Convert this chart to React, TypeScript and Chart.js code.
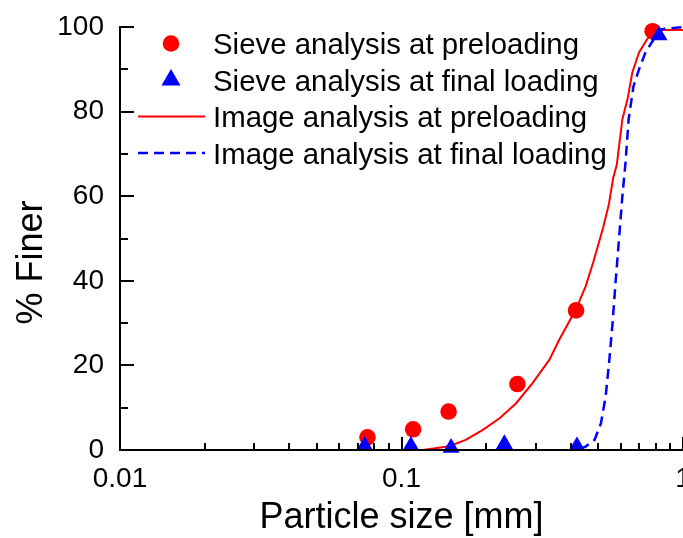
import React, { useEffect, useRef } from "react";
import { Chart, registerables } from "chart.js";

Chart.register(...registerables);

// ---- data ----
const SIEVE_PRE_X = [0.0757, 0.11, 0.147, 0.258, 0.417, 0.78];
const SIEVE_PRE_Y = [3.0, 4.9, 9.1, 15.6, 33.0, 99.0];

const SIEVE_FIN_X = [0.074, 0.108, 0.15, 0.232, 0.42, 0.822];
const SIEVE_FIN_Y = [1.0, 1.0, 0.5, 1.4, 0.9, 98.0];

const IMG_PRE_X = [0.119, 0.148, 0.169, 0.194, 0.223, 0.255, 0.292, 0.335, 0.363, 0.416, 0.451, 0.479, 0.5, 0.52, 0.545, 0.565, 0.582, 0.593, 0.609, 0.635, 0.661, 0.698, 0.747, 0.789, 0.85, 1.0];
const IMG_PRE_Y = [0, 0.9, 2.4, 4.7, 7.5, 11.0, 15.8, 21.3, 26.0, 33.2, 38.7, 44.2, 48.5, 52.5, 58.0, 64.3, 67.5, 71.9, 78.2, 82.9, 89.3, 94.0, 97.2, 98.7, 99.3, 99.3];

const IMG_FIN_X = [0.43, 0.451, 0.485, 0.511, 0.531, 0.546, 0.562, 0.577, 0.593, 0.609, 0.625, 0.641, 0.667, 0.698, 0.736, 0.789, 0.84, 1.0];
const IMG_FIN_Y = [0.3, 0.8, 2.4, 6.3, 12.6, 20.5, 30.0, 40.3, 50.2, 60.0, 68.0, 78.2, 86.0, 90.0, 94.0, 97.2, 99.5, 100.0];

const X_TICKS = [
  0.01, 0.02, 0.03, 0.04, 0.05, 0.06, 0.07, 0.08, 0.09,
  0.1, 0.2, 0.3, 0.4, 0.5, 0.6, 0.7, 0.8, 0.9, 1,
];
const X_TICK_LABELS = [0.01, 0.1, 1];
const Y_TICKS = [0, 10, 20, 30, 40, 50, 60, 70, 80, 90, 100];
const Y_TICK_LABELS = [0, 20, 40, 60, 80, 100];

const LEGEND_LABELS = [
  "Sieve analysis at preloading",
  "Sieve analysis at final loading",
  "Image analysis at preloading",
  "Image analysis at final loading",
];
const X_TITLE = "Particle size [mm]";
const Y_TITLE = "% Finer";

const RED = "#ff0000";
const BLUE = "#0000ff";
const FONT = "'Liberation Sans', Arial, Helvetica, sans-serif";

const zip = (xs: number[], ys: number[]) => xs.map((x, i) => ({ x, y: ys[i] }));

const decorPlugin = {
  id: "decor",
  afterDraw(chart: any) {
    const ctx = chart.ctx as CanvasRenderingContext2D;
    const { left, right, top, bottom } = chart.chartArea;
    const xs = chart.scales.x;
    const ys = chart.scales.y;
    ctx.save();
    ctx.strokeStyle = "#000";
    ctx.lineWidth = 2;
    ctx.lineCap = "butt";
    // inward x ticks
    X_TICKS.forEach((v) => {
      const px = Math.round(xs.getPixelForValue(v));
      const len = X_TICK_LABELS.includes(v) ? 13 : 7;
      ctx.beginPath();
      ctx.moveTo(px, bottom);
      ctx.lineTo(px, bottom - len);
      ctx.stroke();
    });
    // inward y ticks
    Y_TICKS.forEach((v) => {
      const py = Math.round(ys.getPixelForValue(v));
      const len = Y_TICK_LABELS.includes(v) ? 14 : 8;
      ctx.beginPath();
      ctx.moveTo(left, py);
      ctx.lineTo(left + len, py);
      ctx.stroke();
    });
    // axis lines
    ctx.beginPath();
    ctx.moveTo(left, top - 1);
    ctx.lineTo(left, bottom);
    ctx.lineTo(right + 1, bottom);
    ctx.stroke();

    // y-axis title
    ctx.save();
    ctx.fillStyle = "#000";
    ctx.font = `36px ${FONT}`;
    ctx.textAlign = "center";
    ctx.textBaseline = "alphabetic";
    ctx.translate(42, (top + bottom) / 2 + 24);
    ctx.rotate(-Math.PI / 2);
    ctx.fillText(Y_TITLE, 0, 0);
    ctx.restore();

    // legend
    const rowY = [43.5, 80, 116.5, 153];
    const markX = 171;
    const textX = 213;
    ctx.font = `29.4px ${FONT}`;
    ctx.textAlign = "left";
    ctx.textBaseline = "alphabetic";
    chart.data.datasets.forEach((ds: any, i: number) => {
      const cy = rowY[i];
      ctx.save();
      if (!ds.showLine) {
        ctx.fillStyle = ds.pointBackgroundColor;
        ctx.beginPath();
        if (ds.pointStyle === "triangle") {
          const r = 11;
          ctx.moveTo(markX, cy - r);
          ctx.lineTo(markX + r * Math.sin((2 * Math.PI) / 3), cy + r / 2);
          ctx.lineTo(markX - r * Math.sin((2 * Math.PI) / 3), cy + r / 2);
          ctx.closePath();
        } else {
          ctx.arc(markX, cy, 8.3, 0, Math.PI * 2);
        }
        ctx.fill();
      } else {
        ctx.strokeStyle = ds.borderColor;
        ctx.lineWidth = ds.borderWidth;
        ctx.setLineDash(ds.borderDash || []);
        ctx.beginPath();
        ctx.moveTo(138, cy);
        ctx.lineTo(205, cy);
        ctx.stroke();
      }
      ctx.restore();
      ctx.fillStyle = "#000";
      ctx.fillText(ds.label, textX, cy + 10.5);
    });
    ctx.restore();
  },
};

export default function App() {
  const ref = useRef<HTMLCanvasElement | null>(null);

  useEffect(() => {
    if (!ref.current) return;
    const chart = new Chart(ref.current, {
      type: "scatter",
      data: {
        datasets: [
          {
            label: LEGEND_LABELS[0],
            data: zip(SIEVE_PRE_X, SIEVE_PRE_Y),
            showLine: false,
            pointStyle: "circle",
            pointRadius: 8.3,
            pointBackgroundColor: RED,
            backgroundColor: RED,
            borderColor: RED,
            pointBorderWidth: 0,
            borderWidth: 0,
            order: 2,
            clip: false,
          } as any,
          {
            label: LEGEND_LABELS[1],
            data: zip(SIEVE_FIN_X, SIEVE_FIN_Y),
            showLine: false,
            pointStyle: "triangle",
            pointRadius: 9.8,
            pointBackgroundColor: BLUE,
            backgroundColor: BLUE,
            borderColor: BLUE,
            pointBorderWidth: 0,
            borderWidth: 0,
            order: 1,
            clip: false,
          } as any,
          {
            label: LEGEND_LABELS[2],
            data: zip(IMG_PRE_X, IMG_PRE_Y),
            showLine: true,
            pointRadius: 0,
            borderColor: RED,
            backgroundColor: RED,
            borderWidth: 2,
            tension: 0,
            order: 4,
            clip: false,
          } as any,
          {
            label: LEGEND_LABELS[3],
            data: zip(IMG_FIN_X, IMG_FIN_Y),
            showLine: true,
            pointRadius: 0,
            borderColor: BLUE,
            backgroundColor: BLUE,
            borderWidth: 2.5,
            borderDash: [10, 6],
            tension: 0,
            order: 3,
            clip: false,
          } as any,
        ],
      },
      options: {
        responsive: false,
        animation: false,
        devicePixelRatio: 1,
        events: [],
        layout: { autoPadding: false, padding: { top: 27, right: 0, bottom: 0, left: 0 } },
        plugins: {
          legend: { display: false },
          tooltip: { enabled: false },
        },
        scales: {
          x: {
            type: "logarithmic",
            min: 0.01,
            max: 1,
            grid: { display: false, drawTicks: false },
            border: { display: false },
            afterBuildTicks: (scale: any) => {
              scale.ticks = X_TICKS.map((v) => ({ value: v }));
            },
            afterFit: (scale: any) => {
              scale.height = 88;
              scale.paddingLeft = 0;
              scale.paddingRight = 0;
            },
            ticks: {
              autoSkip: false,
              maxRotation: 0,
              minRotation: 0,
              padding: 12,
              color: "#000",
              font: { family: FONT, size: 28 },
              callback: (v: any) => (X_TICK_LABELS.includes(Number(v)) ? String(v) : ""),
            },
            title: {
              display: true,
              text: X_TITLE,
              color: "#000",
              font: { family: FONT, size: 36, lineHeight: 1 },
              padding: { top: 0, bottom: 2 },
            },
          },
          y: {
            type: "linear",
            min: 0,
            max: 100,
            grid: { display: false, drawTicks: false },
            border: { display: false },
            afterBuildTicks: (scale: any) => {
              scale.ticks = Y_TICKS.map((v) => ({ value: v }));
            },
            afterFit: (scale: any) => {
              scale.width = 120;
              scale.paddingTop = 0;
              scale.paddingBottom = 0;
            },
            ticks: {
              autoSkip: false,
              padding: 16,
              color: "#000",
              font: { family: FONT, size: 28 },
              callback: (v: any) => (Y_TICK_LABELS.includes(Number(v)) ? String(v) : ""),
            },
          },
        },
      } as any,
      plugins: [decorPlugin],
    });
    return () => chart.destroy();
  }, []);

  return (
    <div style={{ position: "fixed", left: 0, top: 0, width: 683, height: 538, background: "#fff" }}>
      <canvas ref={ref} width={683} height={538} style={{ display: "block" }} />
    </div>
  );
}
